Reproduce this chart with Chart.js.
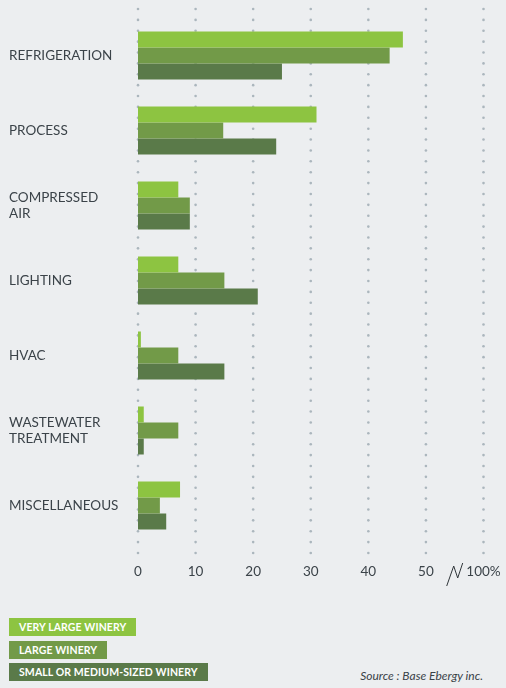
<!DOCTYPE html>
<html>
<head>
<meta charset="utf-8">
<script src="https://cdn.jsdelivr.net/npm/chart.js@4/dist/chart.umd.min.js"></script>
<style>
  html, body { margin: 0; padding: 0; background: #eceef0; }
  body { width: 506px; height: 688px; position: relative; overflow: hidden; font-family: Lato, "Open Sans", sans-serif; }
  #wrap { position: absolute; left: 0; top: 0; width: 506px; height: 600px; }
  #legend { position: absolute; left: 9px; top: 618px; }
  .lg { display: block; height: 18px; line-height: 18px; margin-bottom: 4.5px; width: max-content; padding: 0 10px; color: #ffffff; font-weight: bold; font-size: 10.5px; font-family: Lato, sans-serif; letter-spacing: 0.1px; }
  #source { position: absolute; right: 23px; top: 668px; font-style: italic; font-size: 12px; color: #3a4248; font-family: Lato, sans-serif; }
</style>
</head>
<body>
<div id="wrap"><canvas id="c"></canvas></div>
<div id="legend"></div>
<div id="source">Source : Base Ebergy inc.</div>
<script>
const categories = ["REFRIGERATION", "PROCESS", ["COMPRESSED", "AIR"], "LIGHTING", "HVAC", ["WASTEWATER", "TREATMENT"], "MISCELLANEOUS"];
const seriesNames = ["VERY LARGE WINERY", "LARGE WINERY", "SMALL OR MEDIUM-SIZED WINERY"];
const veryLarge = [46, 31, 7, 7, 0.5, 1, 7.3];
const large = [43.7, 14.8, 9, 15, 7, 7, 3.8];
const smallMedium = [25, 24, 9, 20.8, 15, 1, 4.9];
const tickValues = [0, 10, 20, 30, 40, 50, 60];
const tickLabels = ["0", "10", "20", "30", "40", "50", "100%"];

const colors = ["#8dc441", "#729a48", "#5a7a49"];
const textColor = "#3b4349";

const dotGrid = {
  id: 'dotGrid',
  beforeDatasetsDraw(chart) {
    const ctx = chart.ctx;
    const x = chart.scales.x;
    ctx.save();
    ctx.fillStyle = '#abb6bd';
    tickValues.forEach(v => {
      const px = x.getPixelForValue(v);
      for (let i = 0; i <= 50; i++) {
        const py = 9 + i * 10.88;
        ctx.beginPath();
        ctx.arc(px, py, 1.3, 0, Math.PI * 2);
        ctx.fill();
      }
    });
    ctx.restore();
  },
  afterDraw(chart) {
    const ctx = chart.ctx;
    const x = chart.scales.x;
    const p50 = x.getPixelForValue(50), p60 = x.getPixelForValue(60);
    const cx = p50 + (p60 - p50) * 0.5;
    ctx.save();
    ctx.strokeStyle = '#2f3539';
    ctx.lineWidth = 1;
    ctx.beginPath();
    ctx.moveTo(cx - 8, 586);
    ctx.lineTo(cx - 1, 566);
    ctx.lineTo(cx + 3, 578);
    ctx.lineTo(cx + 8, 563);
    ctx.stroke();
    ctx.restore();
  }
};

const chart = new Chart(document.getElementById('c'), {
  type: 'bar',
  data: {
    labels: categories,
    datasets: [
      { label: seriesNames[0], data: veryLarge, backgroundColor: colors[0] },
      { label: seriesNames[1], data: large, backgroundColor: colors[1] },
      { label: seriesNames[2], data: smallMedium, backgroundColor: colors[2] }
    ]
  },
  options: {
    indexAxis: 'y',
    responsive: true,
    maintainAspectRatio: false,
    animation: false,
    devicePixelRatio: 1,
    layout: { padding: { top: 18, left: 9, right: 22.5, bottom: 0 } },
    datasets: { bar: { categoryPercentage: 0.64, barPercentage: 1.0 } },
    plugins: { legend: { display: false }, tooltip: { enabled: false } },
    scales: {
      x: {
        min: 0, max: 60,
        grid: { display: false },
        border: { display: false },
        afterFit(s) { s.height = 57; s.paddingLeft = 0; s.paddingRight = 0; },
        afterBuildTicks(s) { s.ticks = tickValues.map(v => ({ value: v })); },
        ticks: {
          padding: 13,
          color: textColor,
          font: { family: 'Lato', size: 13.5 },
          callback(v) { const i = tickValues.indexOf(v); return i >= 0 ? tickLabels[i] : ''; }
        }
      },
      y: {
        grid: { display: false },
        border: { display: false },
        afterFit(s) { s.width = 129; s.paddingTop = 0; s.paddingBottom = 0; },
        ticks: {
          crossAlign: 'far',
          padding: 0,
          color: textColor,
          font: { family: 'Lato', size: 13.5 },
          lineHeight: 1.2
        }
      }
    }
  },
  plugins: [dotGrid]
});

const lg = document.getElementById('legend');
seriesNames.forEach((n, i) => {
  const d = document.createElement('div');
  d.className = 'lg';
  d.style.background = colors[i];
  d.textContent = n;
  lg.appendChild(d);
});
</script>
</body>
</html>
